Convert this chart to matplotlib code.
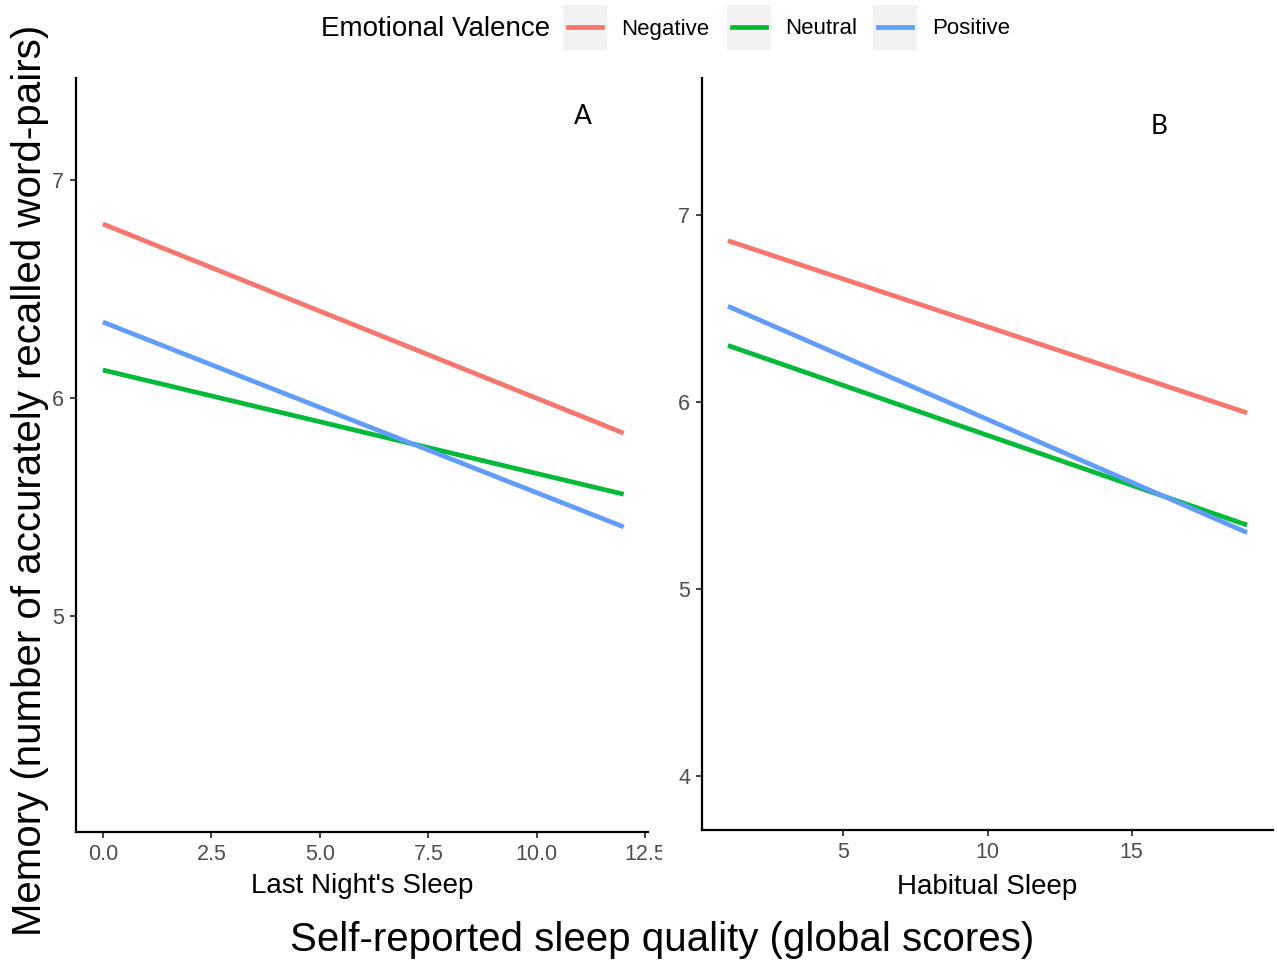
import matplotlib
matplotlib.use("Agg")
import matplotlib.pyplot as plt
from matplotlib.patches import Rectangle
from matplotlib.lines import Line2D
from matplotlib.transforms import Bbox

plt.rcParams['font.family'] = ['Liberation Sans', 'DejaVu Sans']

# fitted regression lines, endpoints per valence
valences = ["Negative", "Neutral", "Positive"]
colors = ["#F8766D", "#00BA38", "#619CFF"]

last_night_x = [0, 12]
last_night_y = {
    "Negative": [6.80, 5.84],
    "Neutral": [6.13, 5.56],
    "Positive": [6.35, 5.41],
}
habitual_x = [1, 19]
habitual_y = {
    "Negative": [6.86, 5.94],
    "Neutral": [6.30, 5.34],
    "Positive": [6.51, 5.30],
}

W, H = 1277, 960
fig = plt.figure(figsize=(W / 100, H / 100), dpi=100)


def px_axes(x0, y0, x1, y1):
    return fig.add_axes([x0 / W, 1 - y1 / H, (x1 - x0) / W, (y1 - y0) / H])


def style(ax):
    for s in ["top", "right"]:
        ax.spines[s].set_visible(False)
    for s in ["left", "bottom"]:
        ax.spines[s].set_linewidth(1.6)
        ax.spines[s].set_color("black")
    ax.tick_params(length=4, width=1.3, color="#333333", labelcolor="#4D4D4D",
                   labelsize=15.5, pad=4.5)
    ax.set_facecolor("white")


ax1 = px_axes(76, 78, 648, 832)
for v, c in zip(valences, colors):
    ax1.plot(last_night_x, last_night_y[v], color=c, lw=3.4, solid_capstyle="butt")
ax1.set_xlim(-0.62, 12.56)
ax1.set_ylim(4.01, 7.47)
ax1.set_xticks([0, 2.5, 5, 7.5, 10, 12.5])
ax1.set_xticklabels(["0.0", "2.5", "5.0", "7.5", "10.0", "12.5"])
ax1.set_yticks([5, 6, 7])
style(ax1)
ax1.set_xlabel("Last Night's Sleep", fontsize=20, labelpad=6)
ax1.text(583, H - 117, "A", transform=None, fontsize=19, family="Lato",
         ha="center", va="center")

ax2 = px_axes(702, 78, 1273, 830)
for v, c in zip(valences, colors):
    ax2.plot(habitual_x, habitual_y[v], color=c, lw=3.4, solid_capstyle="butt")
ax2.set_xlim(0.1, 19.9)
ax2.set_ylim(3.71, 7.73)
ax2.set_xticks([5, 10, 15])
ax2.set_yticks([4, 5, 6, 7])
style(ax2)
ax2.set_xlabel("Habitual Sleep", fontsize=20, labelpad=8)
ax2.text(1159, H - 127, "B", transform=None, fontsize=19, family="Lato",
         ha="center", va="center")

fig.canvas.draw()
# last tick label of the left panel gets cut at the panel boundary
clip = Bbox.from_extents(0, 0, 662, H)
for lab in ax1.get_xticklabels():
    lab.set_clip_box(clip)
    lab.set_clip_on(True)

fig.text(662 / W, 1 - 940 / H, "Self-reported sleep quality (global scores)",
         fontsize=29, ha="center", va="center")
fig.text(30 / W, 1 - 480 / H, "Memory (number of accurately recalled word-pairs)",
         fontsize=29, ha="center", va="center", rotation=90)

# legend across the top
fig.text(550 / W, 1 - 29 / H, "Emotional Valence", fontsize=20,
         ha="right", va="center")
legend_keys = [(563, 621), (727, 785), (873, 932)]
for (kx, tx), v, c in zip(legend_keys, valences, colors):
    fig.patches.append(Rectangle((kx / W, 1 - 50 / H), 44 / W, 45 / H,
                                 transform=fig.transFigure, facecolor="#F2F2F2",
                                 edgecolor="none"))
    fig.lines.append(Line2D([(kx + 5) / W, (kx + 39) / W], [1 - 27 / H, 1 - 27 / H],
                            transform=fig.transFigure, color=c, lw=3.4))
    fig.text(tx / W, 1 - 29 / H, v, fontsize=16, ha="left", va="center")

fig.savefig("out.png", dpi=100)
